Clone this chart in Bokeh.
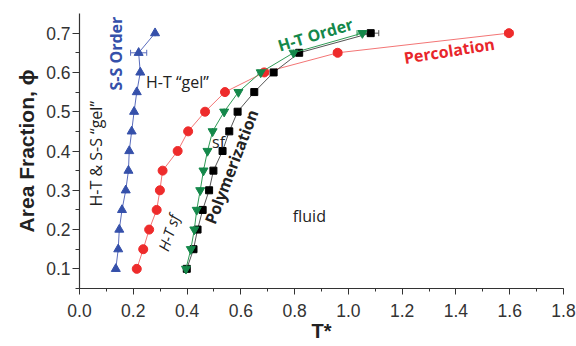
from bokeh.plotting import figure
from bokeh.models import Label, Range1d, FixedTicker, ColumnDataSource, Whisker
from bokeh.embed import file_html
from bokeh.resources import INLINE

# ---- data ----
phi = [0.10, 0.15, 0.20, 0.25, 0.30, 0.35, 0.40, 0.45, 0.50, 0.55, 0.60, 0.65, 0.70]
ss_order_T = [0.135, 0.144, 0.148, 0.158, 0.172, 0.182, 0.185, 0.194, 0.203, 0.213, 0.226, 0.220, 0.281]
ss_order_err = [0, 0, 0, 0, 0, 0, 0, 0, 0, 0, 0, 0.03, 0]
percolation_T = [0.213, 0.237, 0.259, 0.287, 0.299, 0.309, 0.365, 0.404, 0.467, 0.541, 0.687, 0.960, 1.597]
percolation_err = [0, 0, 0, 0, 0, 0, 0, 0, 0, 0, 0.015, 0.015, 0.015]
ht_order_T = [0.396, 0.414, 0.427, 0.436, 0.449, 0.461, 0.476, 0.495, 0.538, 0.591, 0.674, 0.796, 1.052]
ht_order_err = [0, 0, 0, 0, 0, 0, 0, 0, 0, 0, 0.01, 0, 0.02]
polymer_T = [0.399, 0.424, 0.439, 0.458, 0.482, 0.498, 0.532, 0.557, 0.588, 0.650, 0.722, 0.817, 1.083]
polymer_err = [0, 0, 0, 0, 0, 0, 0, 0, 0, 0, 0.01, 0, 0.03]

x_ticks = [0.0, 0.2, 0.4, 0.6, 0.8, 1.0, 1.2, 1.4, 1.6, 1.8]
y_ticks = [0.1, 0.2, 0.3, 0.4, 0.5, 0.6, 0.7]
x_title = "T*"
y_title = "Area Fraction, \u03d5"

p = figure(width=576, height=346, output_backend="svg", toolbar_location=None,
           x_range=Range1d(0, 1.8), y_range=Range1d(0.05, 0.75),
           min_border_left=79, min_border_right=13, min_border_top=13, min_border_bottom=58)
p.outline_line_color = None
p.grid.grid_line_color = None
p.background_fill_color = "white"

TICK_FONT = "Liberation Sans"
for ax in (p.xaxis[0], p.yaxis[0]):
    ax.axis_line_color = "#333333"
    ax.axis_line_width = 1.2
    ax.major_tick_line_color = "#333333"
    ax.minor_tick_line_color = "#333333"
    ax.major_tick_in = 0
    ax.minor_tick_in = 0
    ax.major_label_text_font = TICK_FONT
    ax.major_label_text_font_size = "17.5px"
    ax.major_label_text_color = "#333333"
    ax.axis_label_text_font = TICK_FONT
    ax.axis_label_text_font_style = "bold"
    ax.axis_label_text_color = "#222222"

p.xaxis.ticker = FixedTicker(ticks=x_ticks, minor_ticks=[i / 10 for i in range(19)])
p.yaxis.ticker = FixedTicker(ticks=y_ticks, minor_ticks=[0.05 + i * 0.05 for i in range(15)])
p.xaxis.major_label_overrides = {t: f"{t:.1f}" for t in x_ticks}
p.yaxis.major_label_overrides = {t: f"{t:.1f}" for t in y_ticks}
p.xaxis.major_tick_out = 6
p.xaxis.minor_tick_out = 3
p.yaxis.major_tick_out = 7
p.yaxis.minor_tick_out = 4
p.xaxis.major_label_standoff = 9
p.yaxis.major_label_standoff = 2
p.xaxis.axis_label = x_title
p.xaxis.axis_label_text_font_size = "20px"
p.xaxis.axis_label_standoff = 0
p.yaxis.axis_label = y_title
p.yaxis.axis_label_text_font_size = "21px"
p.yaxis.axis_label_standoff = 5


def series(T, err, line_col, mark_col, marker, size):
    src = ColumnDataSource(dict(x=T, y=phi,
                                lo=[t - e for t, e in zip(T, err)],
                                hi=[t + e for t, e in zip(T, err)]))
    p.line("x", "y", source=src, line_color=line_col, line_width=1)
    w = Whisker(base="y", lower="lo", upper="hi", source=src, dimension="width",
                line_color=line_col, line_width=1)
    w.upper_head.size = 6
    w.lower_head.size = 6
    w.upper_head.line_color = line_col
    w.lower_head.line_color = line_col
    p.add_layout(w)
    p.scatter("x", "y", source=src, marker=marker, size=size,
              fill_color=mark_col, line_color=mark_col)


series(ss_order_T, ss_order_err, "#5a6cbc", "#3550aa", "triangle", 9)
series(percolation_T, percolation_err, "#f37575", "#ee2b2b", "circle", 9)
series(polymer_T, polymer_err, "#555555", "#000000", "square", 7)
series(ht_order_T, ht_order_err, "#2f9a55", "#14884a", "inverted_triangle", 9)

ANN = "Open Sans"


def label(x, y, text, color="#222222", angle=0, bold=False, size="16px", style=None):
    st = "bold" if bold else "normal"
    if style:
        st = style
    p.add_layout(Label(x=x, y=y, text=text, text_color=color, angle=angle, angle_units="deg",
                       text_font=ANN, text_font_size=size, text_font_style=st,
                       text_align="center", text_baseline="middle"))


label(0.134, 0.648, "S-S Order", color="#3550aa", angle=90, bold=True)
label(0.364, 0.576, "H-T \u201cgel\u201d")
label(0.063, 0.393, "H-T & S-S \u201cgel\u201d", angle=90)
label(0.517, 0.424, "sf")
label(0.565, 0.36, "Polymerization", angle=69, bold=True)
label(0.331, 0.192, "H-T sf", angle=72, style="italic", size="15px")
label(0.855, 0.235, "fluid")
label(0.877, 0.696, "H-T Order", color="#14884a", angle=17, bold=True)
label(1.375, 0.655, "Percolation", color="#e8262b", angle=9, bold=True)

open("out.html", "w").write(file_html(p, INLINE))
